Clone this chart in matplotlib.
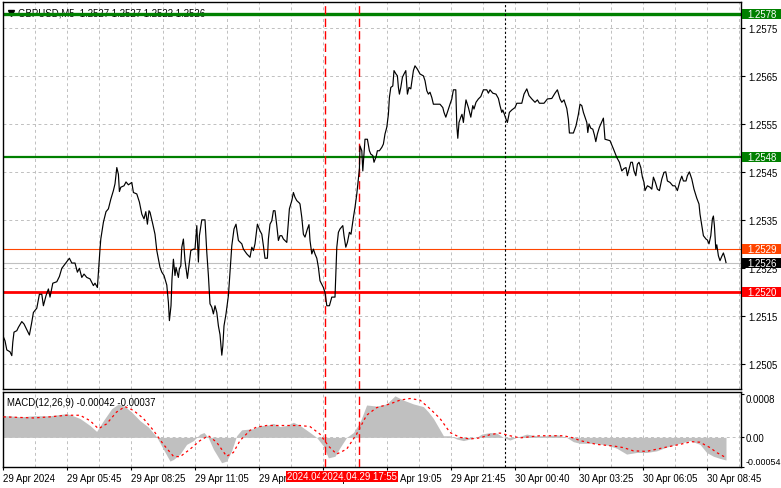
import matplotlib
matplotlib.use("Agg")
import matplotlib.pyplot as plt
from matplotlib.patches import Rectangle
from matplotlib.transforms import blended_transform_factory

plt.rcParams['font.family'] = ['Liberation Sans', 'DejaVu Sans']

# ---------------- data ----------------
symbol_title = "GBPUSD,M5  1.2527 1.2527 1.2522 1.2526"
macd_title = "MACD(12,26,9) -0.00042 -0.00037"

# price (close) path: bar index (5-minute bars) and price
price_bar = [
    0.0, 1.0, 1.9, 3.5, 4.4, 4.9, 5.5, 6.9, 7.7, 9.4, 10.5, 11.9, 13.2, 14.4, 15.2, 16.9,
    18.2, 19.4, 20.2, 21.5, 22.7, 23.5, 24.9, 26.9, 28.2, 29.4, 31.0, 33.2, 34.4, 36.0, 37.2,
    38.2, 39.4, 40.5, 41.9, 43.5, 45.2, 46.0, 47.2, 47.7, 48.5, 48.9, 50.2, 51.5, 52.7, 53.9,
    55.2, 56.0, 56.9, 57.7, 58.2, 58.9, 60.5, 61.5, 62.7, 64.4, 65.2, 66.9, 68.2, 69.4, 70.5,
    71.4, 72.2, 73.0,
    73.5, 74.9, 76.0, 76.9, 77.7, 78.5, 79.4, 80.5, 81.9, 82.7, 83.2, 84.0, 84.5, 85.2, 86.0,
    86.5, 87.7, 88.2, 88.9, 89.4, 90.2, 91.0, 92.2, 93.2, 93.9, 95.2, 96.0, 96.9, 97.7, 98.2,
    99.4, 101.0, 101.9, 102.7, 103.5, 104.4, 105.2, 106.0, 106.9, 107.7, 108.5, 109.4, 109.9,
    110.5, 111.5, 112.7, 113.5, 114.4, 115.5, 116.5, 117.7, 119.4, 120.2, 121.9, 123.5, 124.4,
    125.2, 126.0, 127.2, 128.5, 129.4, 130.2, 131.0, 132.2, 132.7, 133.5, 134.4, 135.2, 136.0,
    136.9, 137.7, 138.5, 139.4, 140.2, 141.9, 142.7, 143.2, 144.4, 145.2, 146.0, 146.9, 148.2,
    148.5, 149.4, 150.2, 151.0, 152.2, 153.0, 153.5, 154.4, 155.2, 156.0, 156.9, 157.7, 158.5,
    160.2, 161.0, 161.9, 163.2, 164.4, 166.0, 166.9, 167.7, 168.5, 169.9, 170.5, 171.4, 172.2,
    173.2, 174.0, 175.2, 176.0, 176.9, 177.7, 178.2, 178.5, 179.4, 179.9, 180.5, 181.0, 182.2,
    183.2, 183.9, 184.9, 185.5, 186.5, 187.2, 188.2, 189.4, 190.2, 191.0, 191.9, 192.7, 193.2,
    193.9, 194.9, 195.5, 196.5, 197.2, 197.7, 198.2, 198.9, 199.7, 200.5, 201.4, 202.2, 203.0,
    203.9, 204.5, 205.2, 206.0, 207.2, 208.5, 210.2, 211.0, 211.9, 212.7, 213.5, 214.4, 215.2,
    218.5, 219.9, 220.5, 221.4, 222.4, 223.5,
    224.4, 225.2, 226.4, 226.9, 227.4, 228.0, 228.9, 229.5, 230.2, 231.0,
    231.5, 232.7, 233.9, 234.9, 235.5, 236.5, 237.7, 238.9, 240.2, 241.9,
    242.7, 243.5, 244.9, 246.5, 247.7, 248.5, 249.4, 249.9, 250.7, 251.5,
    252.2, 253.2, 254.4, 256.0, 256.9, 259.4, 260.5, 261.9, 263.0, 264.4,
    266.0, 267.2, 268.2, 270.5, 272.2, 274.4, 276.0, 277.2, 278.5, 279.4,
    280.5, 281.9, 282.7, 283.2, 285.2, 286.5, 287.7, 288.5, 289.4, 290.2,
    291.0, 291.9, 292.4, 293.0, 293.9, 294.9, 295.7, 296.4, 297.2, 298.2,
    300.2, 301.0, 303.5, 305.2, 306.9, 308.2, 309.4, 310.5, 311.5, 312.2,
    313.2, 313.9, 314.7, 315.5, 316.4, 317.2, 318.0, 318.9, 319.7, 320.5,
    321.0, 322.2, 323.5, 324.4, 325.2, 326.2, 327.2, 328.2, 329.4, 330.5,
    331.4, 332.2, 333.5, 334.9, 336.0, 337.2, 338.5, 339.4, 340.2, 341.5,
    342.2, 343.2, 344.4, 345.5, 346.9, 348.0, 348.5, 349.4, 350.2, 351.5,
    352.2, 353.0, 353.9, 354.7, 355.2, 355.7, 356.4, 356.9, 357.7, 358.5,
    359.4, 360.2, 361.0, 361.5,
]
price_close = [
    1.25108, 1.25098, 1.25079, 1.25075, 1.25067, 1.25095, 1.25116, 1.25119, 1.25126, 1.25138,
    1.25133, 1.25121, 1.25110, 1.25137, 1.25157, 1.25166, 1.25195, 1.25195, 1.25171, 1.25192,
    1.25206, 1.25189, 1.25218, 1.25221, 1.25232, 1.25249, 1.25258, 1.25270, 1.25260, 1.25260,
    1.25241, 1.25249, 1.25230, 1.25237, 1.25230, 1.25227, 1.25213, 1.25218, 1.25209, 1.25241,
    1.25289, 1.25310, 1.25345, 1.25367, 1.25373, 1.25393, 1.25411, 1.25425, 1.25459, 1.25445,
    1.25409, 1.25418, 1.25421, 1.25429, 1.25423, 1.25428, 1.25407, 1.25404, 1.25387, 1.25362,
    1.25352, 1.25367, 1.25341, 1.25369,
    1.25366, 1.25341, 1.25320, 1.25286, 1.25268, 1.25251, 1.25241, 1.25234, 1.25214, 1.25178,
    1.25140, 1.25171, 1.25227, 1.25268, 1.25234, 1.25251, 1.25230, 1.25248, 1.25254, 1.25293,
    1.25310, 1.25265, 1.25228, 1.25262, 1.25286, 1.25289, 1.25289, 1.25338, 1.25262, 1.25317,
    1.25350, 1.25350, 1.25282, 1.25234, 1.25175, 1.25168, 1.25154, 1.25171, 1.25157, 1.25129,
    1.25111, 1.25068, 1.25087, 1.25129, 1.25154, 1.25192, 1.25241, 1.25296, 1.25331, 1.25341,
    1.25307, 1.25300, 1.25289, 1.25279, 1.25272, 1.25293, 1.25286, 1.25300, 1.25341, 1.25327,
    1.25320, 1.25296, 1.25270, 1.25270, 1.25310, 1.25341, 1.25348, 1.25369, 1.25369, 1.25338,
    1.25307, 1.25317, 1.25317, 1.25310, 1.25303, 1.25345, 1.25373, 1.25390, 1.25407, 1.25397,
    1.25390, 1.25385,
    1.25383, 1.25355, 1.25320, 1.25314, 1.25331, 1.25340, 1.25307, 1.25279, 1.25289, 1.25279,
    1.25270, 1.25251, 1.25223, 1.25209, 1.25199, 1.25171, 1.25171, 1.25189, 1.25189, 1.25293,
    1.25324, 1.25331, 1.25338, 1.25317, 1.25293, 1.25303, 1.25324, 1.25320, 1.25355, 1.25376,
    1.25404, 1.25435, 1.25456, 1.25504, 1.25494, 1.25452, 1.25487, 1.25518, 1.25518, 1.25494,
    1.25487, 1.25484, 1.25470, 1.25481, 1.25494, 1.25494, 1.25501, 1.25508, 1.25529, 1.25543,
    1.25570, 1.25605, 1.25626, 1.25629, 1.25661, 1.25654, 1.25650, 1.25626, 1.25612, 1.25626,
    1.25647, 1.25654, 1.25661, 1.25612, 1.25626, 1.25623, 1.25640, 1.25661, 1.25671, 1.25664,
    1.25654, 1.25650, 1.25640, 1.25619, 1.25612, 1.25616, 1.25605, 1.25591, 1.25591, 1.25584,
    1.25574, 1.25564, 1.25577, 1.25591,
    1.25602, 1.25621, 1.25621, 1.25546, 1.25520, 1.25553, 1.25564, 1.25570, 1.25553, 1.25584,
    1.25600, 1.25584, 1.25564, 1.25588, 1.25581, 1.25595, 1.25602, 1.25607, 1.25621, 1.25621,
    1.25614, 1.25621, 1.25614, 1.25612, 1.25603, 1.25588, 1.25574, 1.25579, 1.25570, 1.25560,
    1.25553, 1.25574, 1.25579, 1.25584, 1.25593, 1.25593, 1.25612, 1.25623, 1.25609, 1.25602,
    1.25595, 1.25600, 1.25593, 1.25593, 1.25602, 1.25603, 1.25614, 1.25621, 1.25602, 1.25595,
    1.25600, 1.25582, 1.25559, 1.25531, 1.25531, 1.25546, 1.25570, 1.25591, 1.25588, 1.25574,
    1.25564, 1.25553, 1.25532, 1.25550, 1.25541, 1.25539, 1.25527, 1.25513, 1.25529, 1.25543,
    1.25562, 1.25518, 1.25515, 1.25498, 1.25480, 1.25470, 1.25452, 1.25457, 1.25459, 1.25442,
    1.25459, 1.25470, 1.25470, 1.25452, 1.25442, 1.25466, 1.25470, 1.25459, 1.25439, 1.25428,
    1.25411, 1.25421, 1.25418, 1.25414, 1.25439, 1.25428, 1.25414, 1.25411, 1.25435, 1.25449,
    1.25450, 1.25431, 1.25428, 1.25421, 1.25421, 1.25411, 1.25431, 1.25441, 1.25431, 1.25431,
    1.25442, 1.25450, 1.25435, 1.25414, 1.25395, 1.25383, 1.25362, 1.25338, 1.25317, 1.25310,
    1.25308, 1.25300, 1.25317, 1.25352, 1.25358, 1.25338, 1.25289, 1.25298, 1.25275, 1.25265,
    1.25274, 1.25281, 1.25270, 1.25261,
]

# MACD main (histogram) and signal (dotted)
hist_bar = [
    0, 3.5, 8.5, 15.2, 23.5, 31.8, 34.3, 38.5, 43.5, 46.8,
    50.2, 54.3, 57.7, 61.0, 64.3, 68.5, 72.7, 76.8, 80.2, 83.5,
    85.2, 88.5, 91.8, 95.2, 98.5, 100.5, 102.7, 105.2, 109.3, 111.8,
    114.3, 116.8, 119.3, 125.2, 128.5, 131.8, 135.2, 138.5, 141.8, 145.2,
    148.5, 153.5, 156.8, 160.2, 162.7, 166.0, 168.5, 171.8, 175.2, 178.5,
    181.8, 186.8, 191.8, 196.0, 200.2, 205.2, 210.2, 212.7, 215.2, 217.7,
    220.2, 223.5, 226.8, 230.2, 233.5, 236.8, 239.3, 243.5, 246.8, 250.2,
    253.5, 256.8, 261.8, 266.8, 271.8, 276.8, 281.8, 285.2, 288.5, 295.2,
    301.8, 306.8, 311.8, 316.8, 321.8, 326.8, 331.8, 338.5, 343.5, 348.5,
    351.8, 355.2, 358.5, 361.5,
]
hist_val = [
    0.00040, 0.00040, 0.00038, 0.00040, 0.00040, 0.00044, 0.00041, 0.00035, 0.00022, 0.00011,
    0.00031, 0.00053, 0.00062, 0.00057, 0.00047, 0.00031, 0.00019, 0.00001, -0.00022, -0.00044,
    -0.00041, -0.00031, -0.00013, -0.00006, 0.00006, 0.00009, -0.00001, -0.00022, -0.00047, -0.00044,
    -0.00025, 0.00003, 0.00014, 0.00016, 0.00022, 0.00022, 0.00026, 0.00020, 0.00022, 0.00028,
    0.00022, 0.00009, 0.00000, -0.00016, -0.00038, -0.00035, -0.00019, 0.00000, 0.00009, 0.00028,
    0.00060, 0.00058, 0.00062, 0.00077, 0.00069, 0.00062, 0.00057, 0.00047, 0.00035, 0.00019,
    0.00003, 0.00003, -0.00003, -0.00006, -0.00003, 0.00000, 0.00006, 0.00009, 0.00008, 0.00000,
    -0.00005, 0.00000, 0.00006, 0.00003, 0.00003, 0.00005, 0.00000, -0.00008, -0.00011, -0.00011,
    -0.00014, -0.00020, -0.00031, -0.00028, -0.00028, -0.00025, -0.00018, -0.00011, -0.00006, -0.00013,
    -0.00028, -0.00035, -0.00039, -0.00042,
]
sig_bar = [
    0.2, 15.2, 23.5, 31.8, 38.5, 43.5, 47.7, 51.8, 56.8, 61.0,
    65.2, 70.2, 75.2, 80.2, 85.2, 88.5, 93.5, 98.5, 102.7, 106.8,
    111.8, 115.2, 118.5, 123.5, 126.8, 131.8, 140.2, 148.5, 153.5, 158.5,
    162.7, 166.8, 171.8, 176.8, 181.8, 186.8, 193.5, 198.5, 203.5, 208.5,
    213.5, 218.5, 223.5, 228.5, 233.5, 238.5, 243.5, 248.5, 253.5, 258.5,
    263.5, 268.5, 273.5, 280.2, 285.2, 288.5, 296.8, 305.2, 310.2, 315.2,
    321.8, 326.8, 331.8, 338.5, 344.3, 348.5, 353.5, 356.8, 360.2, 361.5,
]
sig_val = [
    0.00038, 0.00036, 0.00038, 0.00041, 0.00041, 0.00031, 0.00016, 0.00025, 0.00047, 0.00057,
    0.00050, 0.00035, 0.00013, -0.00013, -0.00035, -0.00036, -0.00022, -0.00006, 0.00003, -0.00009,
    -0.00035, -0.00028, -0.00006, 0.00013, 0.00019, 0.00022, 0.00022, 0.00022, 0.00020, 0.00006,
    -0.00016, -0.00031, -0.00022, 0.00006, 0.00041, 0.00055, 0.00062, 0.00069, 0.00072, 0.00069,
    0.00053, 0.00035, 0.00009, 0.00000, -0.00003, -0.00001, 0.00005, 0.00008, 0.00003, -0.00001,
    0.00001, 0.00003, 0.00003, 0.00003, -0.00001, -0.00006, -0.00013, -0.00016, -0.00019, -0.00025,
    -0.00026, -0.00022, -0.00018, -0.00013, -0.00008, -0.00009, -0.00019, -0.00028, -0.00035, -0.00037,
]

# horizontal levels
level_values = [1.2578, 1.2548, 1.2529, 1.2520]
level_colors = ['#008000', '#008000', '#FF4500', '#FF0000']
level_widths = [2.4, 1.6, 0.8, 2.0]
current_price = 1.2526

# vertical markers (bar index)
red_vlines = [161, 178]
red_vline_labels = ["2024.04.29 16:30", "2024.04.29 17:55"]
separator_bar = 251

# axis ticks
price_ticks = [1.2505, 1.2515, 1.2525, 1.2535, 1.2545, 1.2555, 1.2565, 1.2575]
time_tick_bars = [0, 32, 64, 96, 128, 160, 192, 224, 256, 288, 320, 352]
time_tick_labels = ["29 Apr 2024", "29 Apr 05:45", "29 Apr 08:25", "29 Apr 11:05",
                    "29 Apr 13:45", "29 Apr 16:25", "29 Apr 19:05", "29 Apr 21:45",
                    "30 Apr 00:40", "30 Apr 03:25", "30 Apr 06:05", "30 Apr 08:45"]
macd_ticks = [0.0008, 0.0, -0.00054]
macd_tick_labels = ["0.0008", "0.00", "-0.00054"]

# ---------------- layout ----------------
W, H = 781, 489
fig = plt.figure(figsize=(W / 100, H / 100), dpi=100)
fig.patch.set_facecolor('white')


def frame(x0, y0, x1, y1):
    return [x0 / W, 1 - y1 / H, (x1 - x0) / W, (y1 - y0) / H]


ax = fig.add_axes(frame(3, 3, 741, 390))
axm = fig.add_axes(frame(3, 392.5, 741, 467.5), sharex=ax)

XMIN, XMAX = 0, 369
ax.set_xlim(XMIN, XMAX)
ax.set_ylim(1.249975, 1.25804)
axm.set_ylim(-0.00054, 0.00085)

FS = 6.9
grid_kw = dict(color='#C0C0C0', linestyle=(0, (3, 3)), linewidth=0.7, zorder=0.5)

for a in (ax, axm):
    for b in range(16, XMAX, 16):
        a.axvline(b, **grid_kw)
    for s in a.spines.values():
        s.set_color('black')
        s.set_linewidth(1.0)
    a.set_facecolor('white')

for p in price_ticks:
    ax.axhline(p, **grid_kw)
axm.axhline(0, **grid_kw)

# main price line
ax.plot(price_bar, price_close, color='black', linewidth=0.85, zorder=3)

# levels
for v, c, w in zip(level_values, level_colors, level_widths):
    ax.axhline(v, color=c, linewidth=w, zorder=2.5)
ax.axhline(current_price, color='#C0C0C0', linewidth=0.8, zorder=2.4)

# vertical markers
for a in (ax, axm):
    for vb in red_vlines:
        a.axvline(vb, color='#FF0000', linestyle=(0, (6, 3)), linewidth=1.0, zorder=2.6)
    a.axvline(separator_bar, color='black', linestyle=(0, (2, 2)), linewidth=0.8, zorder=2.6)

# title (partly hidden under the top green level, as in the terminal)
tb = blended_transform_factory(ax.transAxes, ax.transData)
ax.plot([0.0115], [level_values[0] + 0.00002], marker='v', color='black', markersize=4.5,
        transform=tb, zorder=1.5, clip_on=False)
ax.text(0.021, level_values[0] + 0.00003, symbol_title, transform=tb, fontsize=FS,
        va='center', ha='left', color='black', zorder=1.5)

# y axis (right)
ax.yaxis.tick_right()
ax.set_yticks(price_ticks)
ax.set_yticklabels([f"{p:.4f}" for p in price_ticks])
ax.tick_params(axis='y', length=3, width=0.8, pad=2, labelsize=FS, colors='black')
ax.tick_params(axis='x', length=0, labelbottom=False)

# price label boxes at right
bt = blended_transform_factory(ax.transAxes, ax.transData)
ppx = (1.25804 - 1.249975) / 387.0   # data units per pixel
box_w = 40 / 738.0
box_h = 10 * ppx
tags = [(level_values[0], '#008000'), (level_values[1], '#008000'),
        (level_values[2], '#FF4500'), (current_price, '#000000'),
        (level_values[3], '#FF0000')]
for v, c in tags:
    ax.add_patch(Rectangle((1.0 + 1 / 738, v - box_h / 2), box_w, box_h, transform=bt,
                           facecolor=c, edgecolor='none', clip_on=False, zorder=10))
    ax.text(1.0 + 6 / 738, v, f"{v:.4f}", transform=bt, ha='left', va='center',
            color='white', fontsize=FS, zorder=11, clip_on=False)

# MACD panel
axm.fill_between(hist_bar, 0, hist_val, color='#C0C0C0', linewidth=0, zorder=1)
axm.plot(sig_bar, sig_val, color='#FF0000', linestyle=(0, (2, 2.5)), linewidth=0.9, zorder=3)
axm.text(0.006, 0.86, macd_title, transform=axm.transAxes, fontsize=FS,
         ha='left', va='center', color='black', zorder=5)

axm.yaxis.tick_right()
axm.set_yticks(macd_ticks)
axm.set_yticklabels(macd_tick_labels)
axm.tick_params(axis='y', length=2, width=0.8, pad=1.5, labelsize=FS, colors='black')
ylabs = axm.get_yticklabels()
ylabs[0].set_va('top')
ylabs[2].set_va('bottom')
ylabs[2].set_fontsize(6.4)

axm.set_xticks(time_tick_bars)
axm.set_xticklabels(time_tick_labels, ha='left')
axm.tick_params(axis='x', length=2, width=0.8, pad=3, labelsize=FS, colors='black')

# red time labels for vertical lines
bx = blended_transform_factory(axm.transData, axm.transAxes)
tag_w = 39
for i, (vb, lab) in enumerate(zip(red_vlines, red_vline_labels)):
    z = 20 + 2 * i
    axm.add_patch(Rectangle((vb - tag_w / 2, -0.207), tag_w, 0.147, transform=bx,
                            facecolor='#FF0000', edgecolor='none', clip_on=False, zorder=z))
    axm.text(vb, -0.133, lab, transform=bx, ha='center', va='center', color='white',
             fontsize=FS, zorder=z + 1, clip_on=False)

fig.savefig("out.png", dpi=100)
